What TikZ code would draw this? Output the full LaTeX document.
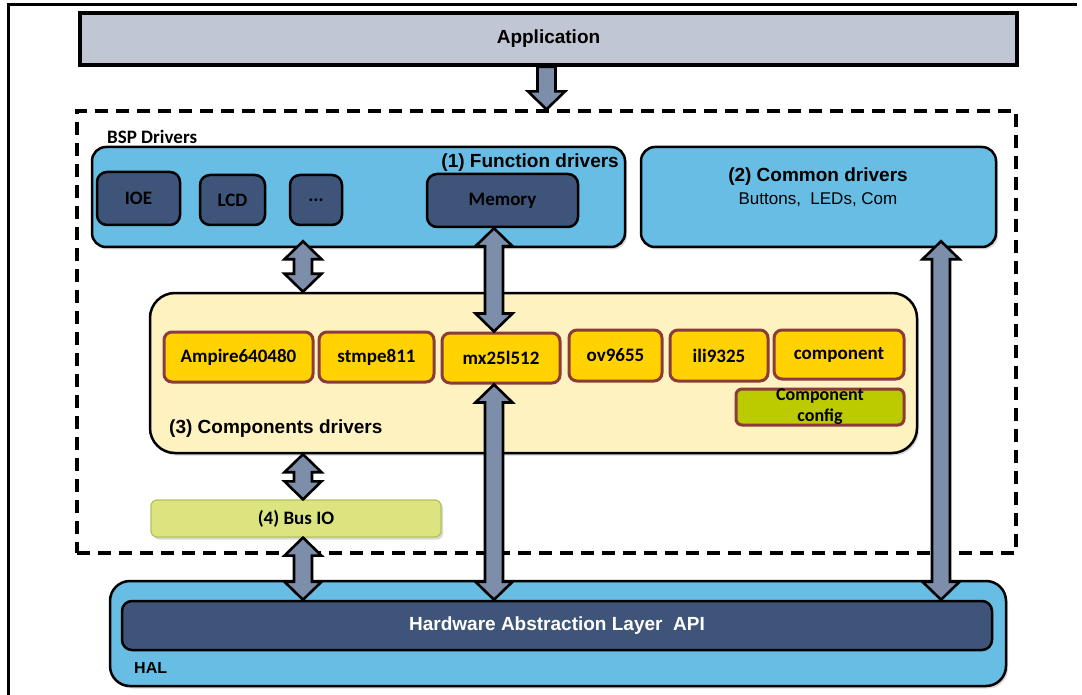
\documentclass[tikz,border=0pt]{standalone}
\usepackage{fontspec}
\setmainfont{Carlito}
\newfontfamily\arialf{Liberation Sans}
\usetikzlibrary{calc,shadows}
\definecolor{appfill}{HTML}{C0C6D3}
\definecolor{bluefill}{HTML}{67BDE3}
\definecolor{darkfill}{HTML}{3E5479}
\definecolor{creamfill}{HTML}{FFF2C1}
\definecolor{yelfill}{HTML}{FFD200}
\definecolor{brownline}{HTML}{8C3B3B}
\definecolor{cfgfill}{HTML}{BCCB00}
\definecolor{busfill}{HTML}{DCE47F}
\definecolor{busline}{HTML}{B3C35C}
\definecolor{arrowfill}{HTML}{7D8EAA}
\newcommand\dblarrow[2]{%
  \draw[blockarrow] let \p1=(#1), \p2=(#2) in
    (\x1,\y1) -- (\x1+18.5pt,\y1-18pt) -- (\x1+9pt,\y1-18pt) -- (\x1+9pt,\y2+18pt)
    -- (\x1+18.5pt,\y2+18pt) -- (\x1,\y2) -- (\x1-18.5pt,\y2+18pt) -- (\x1-9pt,\y2+18pt)
    -- (\x1-9pt,\y1-18pt) -- (\x1-18.5pt,\y1-18pt) -- cycle;}
\newcommand\sglarrow[2]{%
  \draw[blockarrow] let \p1=(#1), \p2=(#2) in
    (\x1-9pt,\y1) -- (\x1+9pt,\y1) -- (\x1+9pt,\y2+18pt) -- (\x1+18.5pt,\y2+18pt)
    -- (\x1,\y2) -- (\x1-18.5pt,\y2+18pt) -- (\x1-9pt,\y2+18pt) -- cycle;}
\begin{document}
\begin{tikzpicture}[x=1pt,y=-1pt,
  cal/.style={font=\bfseries\fontsize{19}{21}\selectfont},
  ari/.style={font=\arialf\bfseries\fontsize{19}{21}\selectfont},
  shad/.style={drop shadow={shadow xshift=2pt,shadow yshift=-2.5pt,opacity=0.3}},
  box/.style={draw=black,line width=2.5pt,rounded corners=#1,inner sep=0pt},
  box/.default=12pt,
  cbox/.style={draw=brownline,line width=3pt,fill=yelfill,rounded corners=8pt,inner sep=0pt,cal},
  blockarrow/.style={draw=black,line width=2.6pt,fill=arrowfill,line join=miter}]
\useasboundingbox (0,0) rectangle (1082,695);
\draw[line width=3pt] (8,695) -- (8,5) -- (1077,5);

\node[box=0pt,fill=appfill,line width=3.5pt,minimum width=937,minimum height=52,ari,shad] (app) at (548.5,39) {\raisebox{-2pt}{Application}};
\node[draw=black,line width=3.2pt,dash pattern=on 13pt off 8pt,minimum width=939,minimum height=442,inner sep=0pt] (bsp) at (546.5,332) {};
\node[cal,anchor=west,inner sep=0pt] (bspl) at (107,137) {BSP Drivers};

\node[box=14pt,fill=bluefill,minimum width=533,minimum height=100,shad] (fd) at (358.5,197) {};
\node[ari,anchor=east,inner sep=0pt] (fdl) at (619,163) {(1) Function drivers};
\node[box=10pt,fill=darkfill,minimum width=83,minimum height=53,cal] (ioe) at (138.5,198.5) {IOE};
\node[box=10pt,fill=darkfill,minimum width=65,minimum height=50,cal] (lcd) at (232.5,200) {LCD};
\node[box=10pt,fill=darkfill,minimum width=52,minimum height=50,cal] (dots) at (316,200) {...};
\node[box=10pt,fill=darkfill,minimum width=151,minimum height=53,cal] (mem) at (502.5,200.5) {Memory};

\node[box=14pt,fill=bluefill,minimum width=355,minimum height=100,shad] (cd) at (818.5,197) {};
\node[ari,inner sep=0pt] (cdl) at (818,177) {(2) Common drivers};
\node[font=\arialf\fontsize{17}{20}\selectfont,inner sep=0pt] (cdb) at (818,200) {Buttons,\ \ LEDs, Com};

\node[box=25pt,fill=creamfill,minimum width=767,minimum height=160,shad] (comp) at (533.5,373) {};
\node[ari,anchor=west,inner sep=0pt] (compl) at (169,429) {(3) Components drivers};
\node[cbox,minimum width=149,minimum height=50] (c1) at (238.5,357) {Ampire640480};
\node[cbox,minimum width=115,minimum height=50] (c2) at (376.5,357) {stmpe811};
\node[cbox,minimum width=118,minimum height=50] (c3) at (501,358) {mx25l512};
\node[cbox,minimum width=93,minimum height=51] (c4) at (615.5,355.5) {ov9655};
\node[cbox,minimum width=98,minimum height=51] (c5) at (719,355.5) {ili9325};
\node[cbox,minimum width=130,minimum height=49] (c6) at (839,354.5) {component};
\node[cbox,fill=cfgfill,rounded corners=6pt,minimum width=168,minimum height=36,align=center,font=\bfseries\fontsize{18}{21}\selectfont] (cfg) at (820,407) {Component\\config};

\node[draw=busline,line width=1.2pt,fill=busfill,rounded corners=6pt,minimum width=290,minimum height=37,inner sep=0pt,cal,shad] (bus) at (296,518.5) {(4) Bus IO};

\node[box=20pt,fill=bluefill,minimum width=896,minimum height=105,shad] (hal) at (558,633.5) {};
\node[box=10pt,fill=darkfill,minimum width=870,minimum height=49,ari,text=white] (api) at (557,625.5) {Hardware Abstraction Layer\ \ API};
\node[font=\arialf\bfseries\fontsize{16}{18}\selectfont,anchor=west,inner sep=0pt] (hall) at (134,668) {HAL};

\coordinate (xl) at (303,0);
\coordinate (xm) at (494,0);
\coordinate (xr) at (941,0);
\coordinate (xa) at (546.5,0);
\coordinate (a2t) at ($(fd.south -| xl)+(0,-7)$);
\coordinate (a5t) at ($(cd.south -| xr)+(0,-7)$);

\sglarrow{app.south -| xa}{bsp.north -| xa}
\dblarrow{a2t}{comp.north -| xl}
\dblarrow{mem.south -| xm}{c3.north -| xm}
\dblarrow{c3.south -| xm}{api.north -| xm}
\dblarrow{a5t}{api.north -| xr}
\dblarrow{comp.south -| xl}{bus.north -| xl}
\dblarrow{bus.south -| xl}{api.north -| xl}
\end{tikzpicture}
\end{document}
